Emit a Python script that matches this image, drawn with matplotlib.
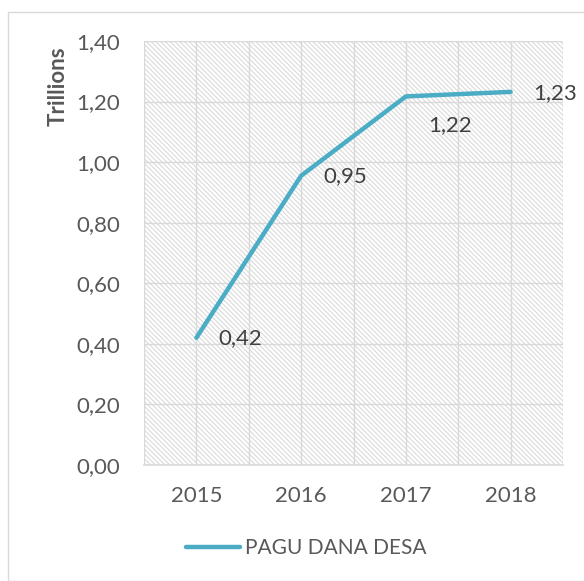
import matplotlib
matplotlib.use("Agg")
import matplotlib.pyplot as plt
from matplotlib.patches import Rectangle
import numpy as np

years = ["2015", "2016", "2017", "2018"]
values = [0.42, 0.955, 1.217, 1.232]
labels = ["0,42", "0,95", "1,22", "1,23"]
y_ticks = [0.0, 0.2, 0.4, 0.6, 0.8, 1.0, 1.2, 1.4]
series_name = "PAGU DANA DESA"

plt.rcParams['font.family'] = ['Lato', 'DejaVu Sans']
plt.rcParams['hatch.linewidth'] = 0.8
plt.rcParams['hatch.color'] = '#dadada'

W, H = 584, 581
fig = plt.figure(figsize=(W/100, H/100), dpi=100)
fig.patch.set_facecolor('white')
# outer chart border
fig.patches.append(Rectangle((8/W, 0.0), 1.2, (H-12)/H, transform=fig.transFigure,
                             fill=False, edgecolor='#d9d9d9', linewidth=1.0))

ax = fig.add_axes([144/W, (H-465)/H, (563-144)/W, (465-41)/H])
x = np.arange(len(years))
ax.set_xlim(-0.5, len(years) - 0.5)
ax.set_ylim(0, 1.4)

# hatched background
ax.add_patch(Rectangle((0, 0), 1, 1, transform=ax.transAxes, facecolor='white',
                       edgecolor='#dadada', hatch='\\' * 7, linewidth=0, zorder=0))

for v in y_ticks:
    ax.axhline(v, color='#d9d9d9', lw=1.0, zorder=1)
for gx in np.arange(-0.5, len(years), 0.5):
    ax.axvline(gx, color='#d9d9d9', lw=1.0, zorder=1)

ax.plot(x, values, color='#4bacc6', lw=3.2, solid_capstyle='round', zorder=3, label=series_name)

offsets = [(16, 0), (16, 0), (16, -21), (16, -1)]
for xi, v, lab, off in zip(x, values, labels, offsets):
    ax.annotate(lab, (xi, v), xytext=off, textcoords='offset points', ha='left', va='center',
                fontsize=16, color='#404040', zorder=4)

ax.set_xticks(x)
ax.set_xticklabels(years)
ax.set_yticks(y_ticks)
ax.set_yticklabels([f"{v:.2f}".replace('.', ',') for v in y_ticks])
ax.tick_params(axis='both', length=0, labelsize=16, labelcolor='#595959')
ax.tick_params(axis='x', pad=15)
ax.tick_params(axis='y', pad=17)
for s in ['top', 'right', 'left']:
    ax.spines[s].set_visible(False)
ax.spines['bottom'].set_color('#d9d9d9')
ax.spines['bottom'].set_linewidth(1.2)

fig.text(58/W, 1 - 86/H, "Trillions", rotation=90, ha='center', va='center',
         fontsize=16, fontweight='bold', color='#595959')

leg = fig.legend(loc='center left', bbox_to_anchor=(167/W, 1 - 548/H), frameon=False,
                 fontsize=15, handlelength=2.6, handletextpad=0.25, labelcolor='#595959')

fig.savefig("out.png", dpi=100)
